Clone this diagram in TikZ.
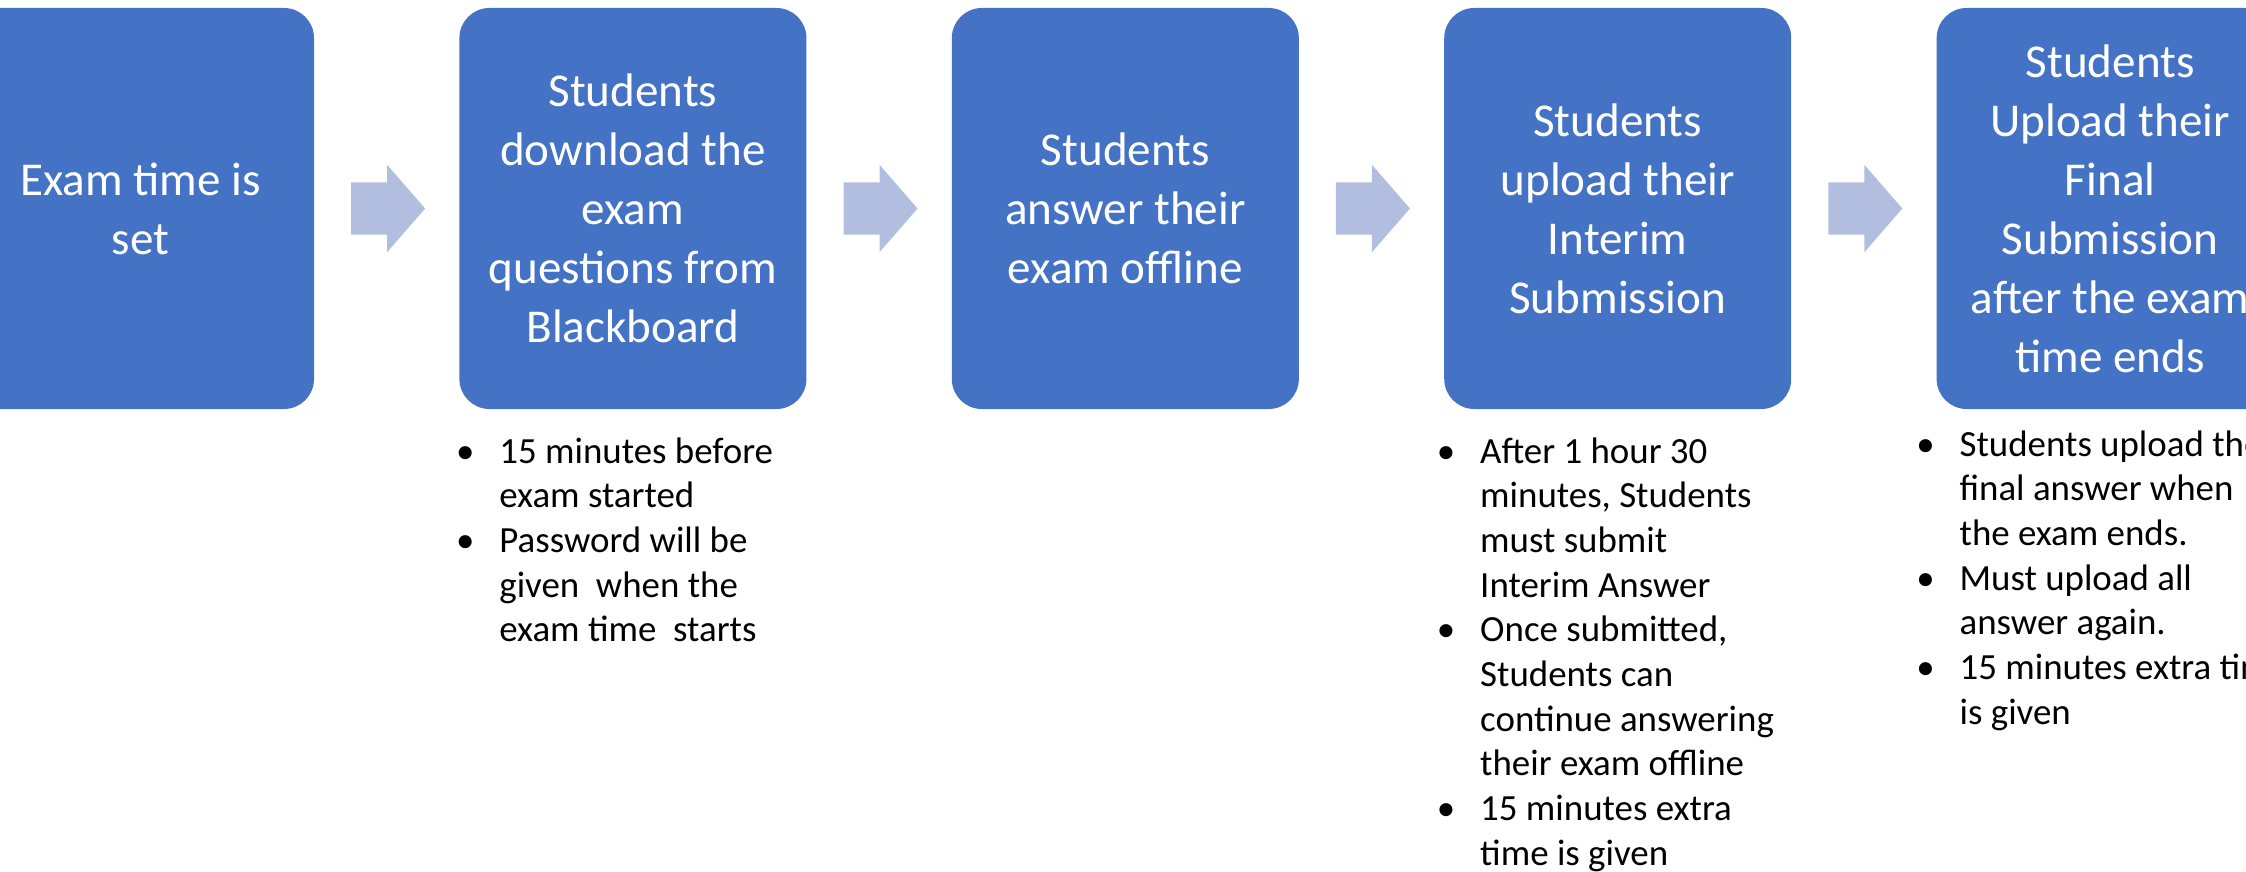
\documentclass[tikz,border=0pt]{standalone}
\usepackage{fontspec}
\setmainfont{Carlito}
\usetikzlibrary{positioning,shapes.arrows,calc}
\definecolor{stepblue}{HTML}{4472C4}
\definecolor{arrowblue}{HTML}{B1BEDF}
\newcommand{\bul}{\llap{\textbullet\hspace{0.25cm}}}

\begin{document}
\begin{tikzpicture}[
        stepbox/.style={fill=stepblue, draw=none, rounded corners=0.3cm,
            minimum width=3.47cm, minimum height=4.01cm, inner sep=0pt,
            text=white, align=center, font=\fontsize{13.4}{16.8}\selectfont},
        flowarrow/.style={single arrow, fill=arrowblue, draw=none, inner sep=0pt,
            text height=0.51cm, text depth=0pt, text width=0.37cm,
            minimum height=0.74cm, minimum width=0.86cm,
            single arrow head extend=0.175cm, single arrow tip angle=98,
            xshift=-0.1cm},
        notes/.style={anchor=north west, align=left, inner sep=0pt,
            font=\fontsize{10.5}{12.7}\selectfont}
    ]

        % Page
        \clip (0,0) rectangle (22.46,-8.72);

        % Steps
        \node[stepbox] (b1) at (1.405,-2.085) {Exam time is\\set};
        \node[stepbox, right=1.44cm of b1] (b2) {Students\\download the\\exam\\questions from\\Blackboard};
        \node[stepbox, right=1.44cm of b2] (b3) {Students\\answer their\\exam offline};
        \node[stepbox, right=1.44cm of b3] (b4) {Students\\upload their\\Interim\\Submission};
        \node[stepbox, right=1.44cm of b4] (b5) {Students\\Upload their\\Final\\Submission\\after the exam\\time ends};

        % Arrows between steps
        \foreach \a/\b in {b1/b2, b2/b3, b3/b4, b4/b5}
            \node[flowarrow] at ($(\a.east)!0.5!(\b.west)$) {};

        % Notes under the steps
        \node[notes] (n2) at ($(b2.south west)+(0.40,-0.217)$) {
            \strut\bul 15 minutes before\\
            exam started\\
            \bul Password will be\\
            given~ when the\\
            exam time~ starts
        };

        \node[notes] (n4) at ($(b4.south west)+(0.36,-0.217)$) {
            \strut\bul After 1 hour 30\\
            minutes, Students\\
            must submit\\
            Interim Answer\\
            \bul Once submitted,\\
            Students can\\
            continue answering\\
            their exam offline\\
            \bul 15 minutes extra\\
            time is given
        };

        \node[notes] (n5) at ($(b5.south west)+(0.23,-0.147)$) {
            \strut\bul Students upload the\\
            final answer when\\
            the exam ends.\\
            \bul Must upload all\\
            answer again.\\
            \bul 15 minutes extra time\\
            is given
        };

    \end{tikzpicture}
\end{document}
